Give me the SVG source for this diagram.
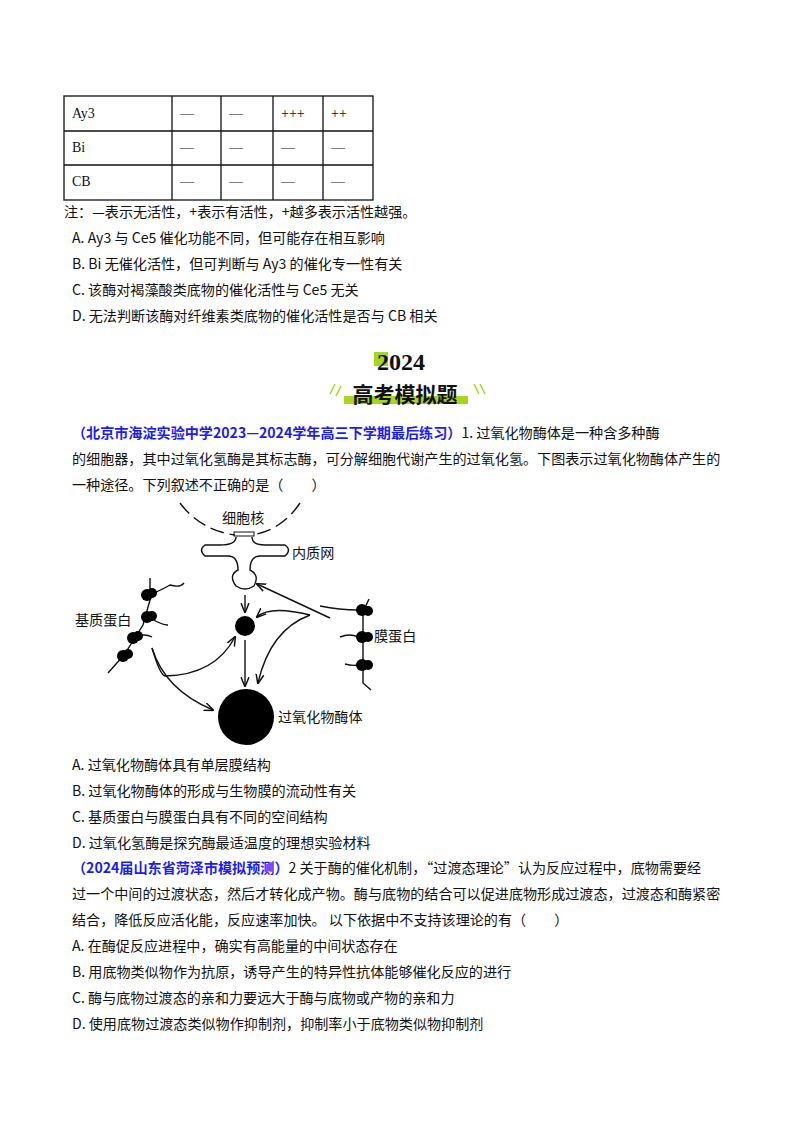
<svg xmlns="http://www.w3.org/2000/svg" width="800" height="1132" viewBox="0 0 800 1132">
<style>
text{font-family:"Liberation Serif","Noto Sans CJK SC",serif;font-size:14px;fill:#111}
.s{font-family:"Noto Sans CJK SC",sans-serif;font-size:14.1px}
.b{fill:#1a1aff;font-weight:bold;font-family:"Noto Sans CJK SC",sans-serif;font-size:14.1px}
.l{fill:none;stroke:#111;stroke-width:1.4}
.tb{stroke:#111;stroke-width:1.3;fill:none}
</style>
<defs><marker id="a" viewBox="0 0 10 10" refX="9" refY="5" markerWidth="7" markerHeight="7" orient="auto"><path d="M0,1L10,5L0,9" fill="none" stroke="#111" stroke-width="1.5"/></marker></defs>
<rect width="800" height="1132" fill="#fff"/>
<g id="table">
<rect class="tb" x="64" y="96" width="309" height="104"/>
<path class="tb" d="M64,131H373M64,165H373M172,96V200M221,96V200M273,96V200M323,96V200"/>
<text x="72" y="118">Ay3</text><text x="72" y="152">Bi</text><text x="72" y="186">CB</text>
<g><text x="180" y="118">—</text><text x="229" y="118">—</text><text x="281" y="118">+++</text><text x="331" y="118">++</text>
<text x="180" y="152">—</text><text x="229" y="152">—</text><text x="281" y="152">—</text><text x="331" y="152">—</text>
<text x="180" y="186">—</text><text x="229" y="186">—</text><text x="281" y="186">—</text><text x="331" y="186">—</text></g>
</g>
<text class="s" x="64" y="217">注：—表示无活性，+表示有活性，+越多表示活性越强。</text>
<text class="s" x="72" y="243">A.  Ay3 与 Ce5  催化功能不同，但可能存在相互影响</text>
<text class="s" x="72" y="269">B.  Bi 无催化活性，但可判断与 Ay3 的催化专一性有关</text>
<text class="s" x="72" y="295">C.  该酶对褐藻酸类底物的催化活性与 Ce5 无关</text>
<text class="s" x="72" y="321">D.  无法判断该酶对纤维素类底物的催化活性是否与 CB 相关</text>
<g id="banner">
<rect x="374" y="352" width="14" height="14" fill="#a6d61e"/>
<text x="401" y="370" text-anchor="middle" style="font-size:24px;font-weight:bold">2024</text>
<rect x="344" y="396" width="124" height="8" fill="#a6d61e"/>
<text x="405" y="402" text-anchor="middle" style="font-family:'Noto Sans CJK SC',sans-serif;font-size:21px;font-weight:bold">高考模拟题</text>
<path d="M330,394l5,-10M336,396l5,-10M474,384l5,10M480,384l5,10" stroke="#a6d61e" stroke-width="1.5"/>
</g>
<text x="72" y="438"><tspan class="b">（北京市海淀实验中学2023—2024学年高三下学期最后练习）</tspan><tspan class="s">1. 过氧化物酶体是一种含多种酶</tspan></text>
<text class="s" x="72" y="464">的细胞器，其中过氧化氢酶是其标志酶，可分解细胞代谢产生的过氧化氢。下图表示过氧化物酶体产生的</text>
<text class="s" x="72" y="490">一种途径。下列叙述不正确的是（　　）</text>
<g id="figure">
<path class="l" stroke-width="3" stroke-dasharray="14,6" d="M180,503 Q200,530 235,535"/>
<path class="l" stroke-width="3" stroke-dasharray="14,6" d="M300,503 Q282,530 252,535"/>
<rect x="234" y="532" width="20" height="4" fill="none" stroke="#111"/>
<path class="l" d="M236,537 Q236,545 220,545 L205,545 Q198,550 205,556 L228,556 Q238,556 238,570 Q228,575 236,586 Q245,592 254,586 Q260,575 250,570 Q250,556 260,556 L285,556 Q292,550 285,545 L265,545 Q252,545 252,537"/>
<text class="s" x="222" y="523">细胞核</text>
<text class="s" x="292" y="558">内质网</text>
<text class="s" x="75" y="625">基质蛋白</text>
<text class="s" x="374" y="641">膜蛋白</text>
<text class="s" x="278" y="722">过氧化物酶体</text>
<circle cx="245" cy="626" r="10" fill="#000"/>
<circle cx="246" cy="717" r="28" fill="#000"/>
<g id="matrix">
<path class="l" d="M150,578 L150,600 L143,625 L124,655 L108,673"/>
<path class="l" d="M150,595 Q165,588 170,585 Q180,588 184,583M150,618 Q162,625 168,625M133,637 Q145,633 152,637"/>
<g fill="#000"><circle cx="147" cy="595" r="6"/><circle cx="152" cy="593" r="5"/><circle cx="147" cy="617" r="6"/><circle cx="152" cy="616" r="5"/><circle cx="133" cy="638" r="6"/><circle cx="138" cy="636" r="5"/><circle cx="123" cy="656" r="6"/><circle cx="128" cy="654" r="5"/></g>
</g>
<g id="membrane">
<path class="l" d="M369,599 L363,612 L363,683 L371,690"/>
<path class="l" d="M320,606 Q340,610 358,610M340,637 Q350,633 358,637M345,664 Q352,666 358,665"/>
<g fill="#000"><circle cx="362" cy="610" r="6"/><circle cx="368" cy="611" r="5"/><circle cx="362" cy="637" r="6"/><circle cx="368" cy="637" r="5"/><circle cx="362" cy="665" r="6"/><circle cx="368" cy="665" r="5"/></g>
</g>
</g>
<g id="connectors" class="l" marker-end="url(#a)">
<path d="M245,595 L245,612"/>
<path d="M245,640 L245,686"/>
<path d="M330,618 L257,584"/>
<path d="M310,615 Q270,605 257,617"/>
<path d="M310,615 Q270,630 258,683"/>
<path d="M152,648 Q160,675 165,676 Q215,675 235,637"/>
<path d="M152,648 Q165,690 213,710"/>
</g>
<text class="s" x="72" y="770">A.  过氧化物酶体具有单层膜结构</text>
<text class="s" x="72" y="796">B.  过氧化物酶体的形成与生物膜的流动性有关</text>
<text class="s" x="72" y="822">C.  基质蛋白与膜蛋白具有不同的空间结构</text>
<text class="s" x="72" y="848">D.  过氧化氢酶是探究酶最适温度的理想实验材料</text>
<text x="72" y="873"><tspan class="b">（2024届山东省菏泽市模拟预测）</tspan><tspan class="s">2 关于酶的催化机制，“过渡态理论”认为反应过程中，底物需要经</tspan></text>
<text class="s" x="72" y="899">过一个中间的过渡状态，然后才转化成产物。酶与底物的结合可以促进底物形成过渡态，过渡态和酶紧密</text>
<text class="s" x="72" y="925">结合，降低反应活化能，反应速率加快。 以下依据中不支持该理论的有（　　）</text>
<text class="s" x="72" y="951">A.  在酶促反应进程中，确实有高能量的中间状态存在</text>
<text class="s" x="72" y="977">B.  用底物类似物作为抗原，诱导产生的特异性抗体能够催化反应的进行</text>
<text class="s" x="72" y="1003">C.  酶与底物过渡态的亲和力要远大于酶与底物或产物的亲和力</text>
<text class="s" x="72" y="1029">D.  使用底物过渡态类似物作抑制剂，抑制率小于底物类似物抑制剂</text>
</svg>
